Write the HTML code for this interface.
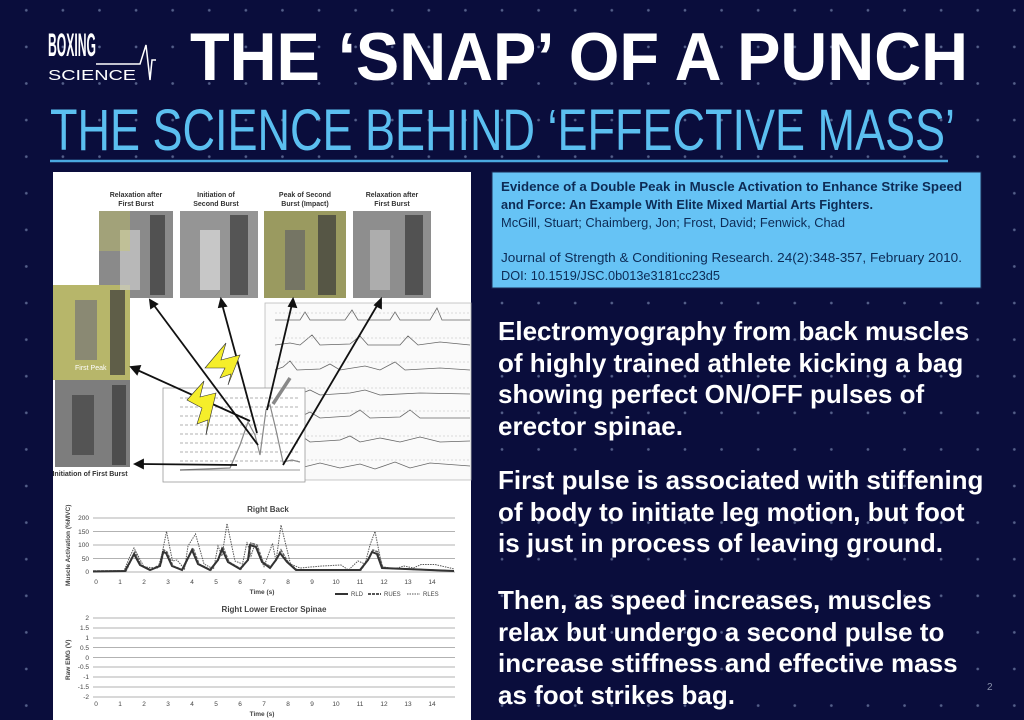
<!DOCTYPE html>
<html><head><meta charset="utf-8"><style>
html,body{margin:0;padding:0}
body{width:1024px;height:720px;overflow:hidden;position:relative;background:#0a0d3c;
background-image:radial-gradient(circle,#55608a 1.1px,transparent 1.6px);background-size:36.6px 36.6px;background-position:8px -8px;font-family:"Liberation Sans",sans-serif}
.txt{position:absolute;left:498px;color:#fff;font-weight:bold;font-size:26px;line-height:31.5px;margin:0;white-space:nowrap}
</style></head><body>
<svg width="1024" height="170" style="position:absolute;left:0;top:0">
<text x="48" y="56" font-family="Liberation Sans Narrow,Liberation Sans,sans-serif" font-weight="bold" font-size="32" fill="#fff" textLength="48" lengthAdjust="spacingAndGlyphs">BOXING</text>
<text x="48" y="80" font-family="Liberation Sans,sans-serif" font-size="15" fill="#fff" textLength="88" lengthAdjust="spacingAndGlyphs">SCIENCE</text>
<polyline points="96,64 140,64 146,45 150,80 152,60 156,60" fill="none" stroke="#fff" stroke-width="1.5"/>
<text x="190" y="80" font-family="Liberation Sans,sans-serif" font-weight="bold" font-size="68" fill="#fff" textLength="778" lengthAdjust="spacingAndGlyphs">THE ‘SNAP’ OF A PUNCH</text>
<text x="50" y="150" font-family="Liberation Sans,sans-serif" font-size="58" fill="#5bbff0" textLength="905" lengthAdjust="spacingAndGlyphs">THE SCIENCE BEHIND ‘EFFECTIVE MASS’</text>
<line x1="50" y1="161" x2="948" y2="161" stroke="#4aa8e0" stroke-width="2.5"/>
</svg>

<svg width="1024" height="720" style="position:absolute;left:0;top:0" font-family="Liberation Sans,sans-serif">
<rect x="53" y="172" width="418" height="548" fill="#fff"/>
<!-- citation -->
<rect x="492" y="172" width="489" height="116" fill="#66c3f5" stroke="#1a2a55" stroke-width="1"/>
<g font-size="13" fill="#0d2b55">
<text x="501" y="191" font-weight="bold" textLength="461" lengthAdjust="spacingAndGlyphs">Evidence of a Double Peak in Muscle Activation to Enhance Strike Speed</text>
<text x="501" y="209" font-weight="bold" textLength="372" lengthAdjust="spacingAndGlyphs">and Force: An Example With Elite Mixed Martial Arts Fighters.</text>
<text x="501" y="227" textLength="344" lengthAdjust="spacingAndGlyphs">McGill, Stuart; Chaimberg, Jon; Frost, David; Fenwick, Chad</text>
<text x="501" y="262" textLength="461" lengthAdjust="spacingAndGlyphs">Journal of Strength &amp; Conditioning Research. 24(2):348-357, February 2010.</text>
<text x="501" y="280" textLength="219" lengthAdjust="spacingAndGlyphs">DOI: 10.1519/JSC.0b013e3181cc23d5</text>
</g>
<!-- photos -->
<g font-size="7" font-weight="bold" fill="#333" text-anchor="middle">
<text x="136" y="197">Relaxation after</text><text x="136" y="206">First Burst</text>
<text x="216" y="197">Initiation of</text><text x="216" y="206">Second Burst</text>
<text x="305" y="197">Peak of Second</text><text x="305" y="206">Burst (Impact)</text>
<text x="392" y="197">Relaxation after</text><text x="392" y="206">First Burst</text>
<text x="90" y="476">Initiation of First Burst</text>
</g>
<rect x="99" y="211" width="74" height="87" fill="#8a8a8a"/>
<rect x="180" y="211" width="78" height="87" fill="#959595"/>
<rect x="264" y="211" width="82" height="87" fill="#9a9a60"/>
<rect x="353" y="211" width="78" height="87" fill="#8e8e8e"/>
<rect x="53" y="285" width="77" height="95" fill="#b7b66a"/>
<rect x="55" y="380" width="75" height="87" fill="#7d7d7d"/>
<g fill="#3a3a3a" opacity="0.7">
<rect x="150" y="215" width="15" height="80"/><rect x="230" y="215" width="18" height="80"/><rect x="318" y="215" width="18" height="80"/><rect x="405" y="215" width="18" height="80"/>
<rect x="110" y="290" width="15" height="85"/><rect x="112" y="385" width="14" height="80"/>
<rect x="120" y="230" width="20" height="60" fill="#ccc"/><rect x="200" y="230" width="20" height="60" fill="#ddd"/><rect x="285" y="230" width="20" height="60" fill="#666"/><rect x="370" y="230" width="20" height="60" fill="#bbb"/>
<rect x="75" y="300" width="22" height="60" fill="#777"/><rect x="72" y="395" width="22" height="60" fill="#444"/>
</g>
<rect x="99" y="211" width="31" height="40" fill="#cfcf5a" opacity="0.35"/>
<text x="75" y="370" font-size="7" fill="#fff">First Peak</text>
<!-- strips -->
<rect x="265" y="303" width="206" height="177" fill="#fafafa" stroke="#bbb" stroke-width="0.8"/>
<g fill="none" stroke="#666" stroke-width="0.8">
<polyline points="275,320 300,320 305,312 310,320 345,320 352,310 358,320 390,320 395,312 400,320 430,320 437,308 442,320 470,320"/>
<polyline points="275,345 290,343 300,345 312,335 320,345 350,344 360,336 368,345 400,345 408,336 418,345 440,342 470,345"/>
<polyline points="275,370 283,367 290,361 297,370 320,369 330,364 340,370 365,366 380,370 395,362 405,370 440,368 470,370"/>
<polyline points="275,395 300,394 310,390 320,395 350,393 365,390 380,395 420,393 470,394"/>
<polyline points="275,418 300,417 310,412 320,418 350,416 360,410 370,418 400,417 410,410 420,418 470,418"/>
<polyline points="275,442 290,440 300,435 310,442 340,440 350,436 360,442 380,438 400,442 420,437 440,442 470,441"/>
<polyline points="275,466 290,462 300,468 320,463 340,468 360,464 375,469 395,462 410,468 430,463 470,466"/>
</g>
<g stroke="#bbb" stroke-width="0.6" stroke-dasharray="2,2">
<line x1="275" y1="313" x2="470" y2="313"/><line x1="275" y1="338" x2="470" y2="338"/><line x1="275" y1="362" x2="470" y2="362"/><line x1="275" y1="388" x2="470" y2="388"/><line x1="275" y1="411" x2="470" y2="411"/><line x1="275" y1="436" x2="470" y2="436"/><line x1="275" y1="460" x2="470" y2="460"/>
</g>
<!-- small chart -->
<rect x="163" y="388" width="142" height="94" fill="#fff" stroke="#999" stroke-width="0.8"/>
<g stroke="#666" stroke-width="0.6" stroke-dasharray="3,2">
<line x1="180" y1="398" x2="300" y2="398"/><line x1="180" y1="407" x2="300" y2="407"/><line x1="180" y1="416" x2="300" y2="416"/><line x1="180" y1="425" x2="300" y2="425"/><line x1="180" y1="434" x2="300" y2="434"/><line x1="180" y1="443" x2="300" y2="443"/><line x1="180" y1="452" x2="300" y2="452"/><line x1="180" y1="461" x2="300" y2="461"/>
</g>
<polyline points="180,470 230,468 240,445 248,422 255,435 260,455 266,410 270,405 276,430 283,462 292,460 300,462" fill="none" stroke="#888" stroke-width="1.2"/>
<line x1="180" y1="470" x2="300" y2="470" stroke="#333" stroke-width="0.6"/>
<!-- arrows -->
<g stroke="#111" stroke-width="1.8" fill="#111">
<line x1="237" y1="465" x2="140" y2="464"/><polygon points="135,464 143,460 143,468"/>
<line x1="250" y1="421" x2="135" y2="369"/><polygon points="131,367 140,366 137,374"/>
<line x1="258" y1="445" x2="153" y2="304"/><polygon points="150,300 157,304 151,308"/>
<line x1="257" y1="433" x2="222" y2="304"/><polygon points="221,299 226,306 219,307"/>
<line x1="267" y1="410" x2="292" y2="304"/><polygon points="293,299 296,307 289,306"/>
<line x1="283" y1="465" x2="378" y2="304"/><polygon points="381,299 381,308 375,305"/>
</g>
<line x1="273" y1="404" x2="290" y2="378" stroke="#888" stroke-width="3.5"/>
<polygon points="205,368 226,343 221,360 240,355 228,385 231,374 220,378 225,368" fill="#f5ee2a" stroke="#333" stroke-width="0.6"/>
<polygon points="187,400 204,381 200,397 216,393 206,435 208,420 197,424 202,408" fill="#f5ee2a" stroke="#333" stroke-width="0.6"/>
<!-- Right Back chart -->
<text x="268" y="512" font-size="8" font-weight="bold" fill="#444" text-anchor="middle">Right Back</text>
<g stroke="#999" stroke-width="0.8">
<line x1="93" y1="518" x2="455" y2="518"/><line x1="93" y1="531.5" x2="455" y2="531.5"/><line x1="93" y1="545" x2="455" y2="545"/><line x1="93" y1="558.5" x2="455" y2="558.5"/><line x1="93" y1="572" x2="455" y2="572"/>
</g>
<g font-size="6.5" fill="#444" text-anchor="end"><text x="89" y="520">200</text><text x="89" y="534">150</text><text x="89" y="547">100</text><text x="89" y="561">50</text><text x="89" y="574">0</text></g>
<g font-size="6.5" fill="#444" text-anchor="middle">
<text x="96" y="584">0</text><text x="120" y="584">1</text><text x="144" y="584">2</text><text x="168" y="584">3</text><text x="192" y="584">4</text><text x="216" y="584">5</text><text x="240" y="584">6</text><text x="264" y="584">7</text><text x="288" y="584">8</text><text x="312" y="584">9</text><text x="336" y="584">10</text><text x="360" y="584">11</text><text x="384" y="584">12</text><text x="408" y="584">13</text><text x="432" y="584">14</text>
<text x="262" y="594" font-weight="bold">Time (s)</text>
</g>
<text transform="translate(70,586) rotate(-90)" font-size="6.5" font-weight="bold" fill="#444">Muscle Activation (%MVC)</text>
<polyline fill="none" stroke="#555" stroke-width="1" stroke-dasharray="1.5,1" points="93,571.5 124,571 129,558.5 134,548 144,567 158,568 162,554 166.5,531.5 172.5,561 177,560 184.5,569 188,546 195.5,534 204,564 213.5,569 218,546 222,556 227,523.5 235,561 242.5,564 247,542 251,556 254.5,545 264,566.5 272.5,543.5 276,561 281,525 290.5,564 300,568 322,566 341,565 348.5,570 358,561 365,564 370,545 375,531.5 382,566.5 394,569 404,566 413.5,568 421,564.5 435,564.5 454.5,569"/>
<polyline fill="none" stroke="#666" stroke-width="1.5" stroke-dasharray="3,1" points="93,571 126,571 132,558 135,552 141,565 151,570 161,564 164,550 167,552 173,566 183,570 188,558 193,548 199,564 211,570 219,558 223,547 229,562 241,569 249,558 251,543 257,545 263,562 271,567 277,558 281,550 288,562 297,570 361,570 369,558 373,550 378,552 383,568 454,571"/>
<polyline fill="none" stroke="#333" stroke-width="2" points="93,571.5 125,571 131,560 134,554 140,565 150,570 160,566 163,552 166,553 172,566 182,570 187,560 192,550 198,564 210,570 218,560 222,549 228,562 240,569 248,560 250,545 256,547 262,562 270,568 276,560 280,553 287,562 296,570 360,570 368,560 372,552 377,554 382,568 454,571"/>
<g font-size="6" fill="#444">
<line x1="335" y1="594" x2="348" y2="594" stroke="#333" stroke-width="2"/><text x="351" y="596">RLD</text>
<line x1="368" y1="594" x2="381" y2="594" stroke="#555" stroke-width="2" stroke-dasharray="3,1"/><text x="384" y="596">RUES</text>
<line x1="407" y1="594" x2="420" y2="594" stroke="#555" stroke-width="1" stroke-dasharray="1.5,1"/><text x="423" y="596">RLES</text>
</g>
<!-- RLES chart -->
<text x="274" y="612" font-size="8" font-weight="bold" fill="#444" text-anchor="middle">Right Lower Erector Spinae</text>
<g stroke="#999" stroke-width="0.8">
<line x1="93" y1="618" x2="455" y2="618"/><line x1="93" y1="628" x2="455" y2="628"/><line x1="93" y1="638" x2="455" y2="638"/><line x1="93" y1="647.5" x2="455" y2="647.5"/><line x1="93" y1="657.5" x2="455" y2="657.5"/><line x1="93" y1="667" x2="455" y2="667"/><line x1="93" y1="677" x2="455" y2="677"/><line x1="93" y1="687" x2="455" y2="687"/><line x1="93" y1="697" x2="455" y2="697"/>
</g>
<g font-size="6.5" fill="#444" text-anchor="end"><text x="89" y="620">2</text><text x="89" y="630">1.5</text><text x="89" y="640">1</text><text x="89" y="650">0.5</text><text x="89" y="660">0</text><text x="89" y="669">-0.5</text><text x="89" y="679">-1</text><text x="89" y="689">-1.5</text><text x="89" y="699">-2</text></g>
<g font-size="6.5" fill="#444" text-anchor="middle">
<text x="96" y="706">0</text><text x="120" y="706">1</text><text x="144" y="706">2</text><text x="168" y="706">3</text><text x="192" y="706">4</text><text x="216" y="706">5</text><text x="240" y="706">6</text><text x="264" y="706">7</text><text x="288" y="706">8</text><text x="312" y="706">9</text><text x="336" y="706">10</text><text x="360" y="706">11</text><text x="384" y="706">12</text><text x="408" y="706">13</text><text x="432" y="706">14</text>
<text x="262" y="716" font-weight="bold">Time (s)</text>
</g>
<text transform="translate(70,680) rotate(-90)" font-size="6.5" font-weight="bold" fill="#444">Raw EMG (V)</text>
<text x="987" y="690" font-size="10" fill="#8890aa">2</text>
</svg>

<p class="txt" style="top:316px">Electromyography from back muscles<br>of highly trained athlete kicking a bag<br>showing perfect ON/OFF pulses of<br>erector spinae.</p>
<p class="txt" style="top:465px">First pulse is associated with stiffening<br>of body to initiate leg motion, but foot<br>is just in process of leaving ground.</p>
<p class="txt" style="top:585px">Then, as speed increases, muscles<br>relax but undergo a second pulse to<br>increase stiffness and effective mass<br>as foot strikes bag.</p>
</body></html>
